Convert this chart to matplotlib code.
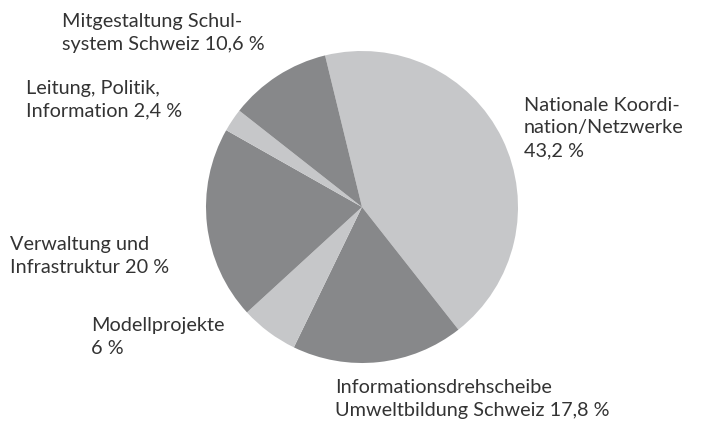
import matplotlib
matplotlib.use("Agg")

import matplotlib.pyplot as plt

# Anteile in Prozent, im Uhrzeigersinn ab oben
labels = [
    "Nationale Koordi-\nnation/Netzwerke\n43,2 %",
    "Informationsdrehscheibe\nUmweltbildung Schweiz 17,8 %",
    "Modellprojekte\n6 %",
    "Verwaltung und\nInfrastruktur 20 %",
    "Leitung, Politik,\nInformation 2,4 %",
    "Mitgestaltung Schul-\nsystem Schweiz 10,6 %",
]
values = [43.2, 17.8, 6, 20, 2.4, 10.6]
colors = ["#c6c7c9", "#87888a", "#c6c7c9", "#87888a", "#c6c7c9", "#87888a"]

# Label-Positionen in Pixeln (links, Blockmitte)
label_pos = [(524, 128), (335, 399), (91, 337), (10, 256), (26, 100), (62, 33)]

W, H = 714, 427
fig = plt.figure(figsize=(W / 100, H / 100), dpi=100)

cx, cy, r = 362, 208, 156
ax = fig.add_axes([(cx - r) / W, (H - cy - r) / H, 2 * r / W, 2 * r / H])
ax.pie(values, colors=colors, startangle=103.7, counterclock=False,
       radius=1, wedgeprops={"linewidth": 0})
ax.set_xlim(-1, 1)
ax.set_ylim(-1, 1)
ax.set_aspect("equal")
ax.axis("off")

for text, (x, y) in zip(labels, label_pos):
    fig.text(x / W, 1 - y / H, text, ha="left", va="center",
             fontsize=14.3, color="#333333", linespacing=1.4,
             family=["Lato", "DejaVu Sans"])

fig.savefig("out.png", dpi=100)
